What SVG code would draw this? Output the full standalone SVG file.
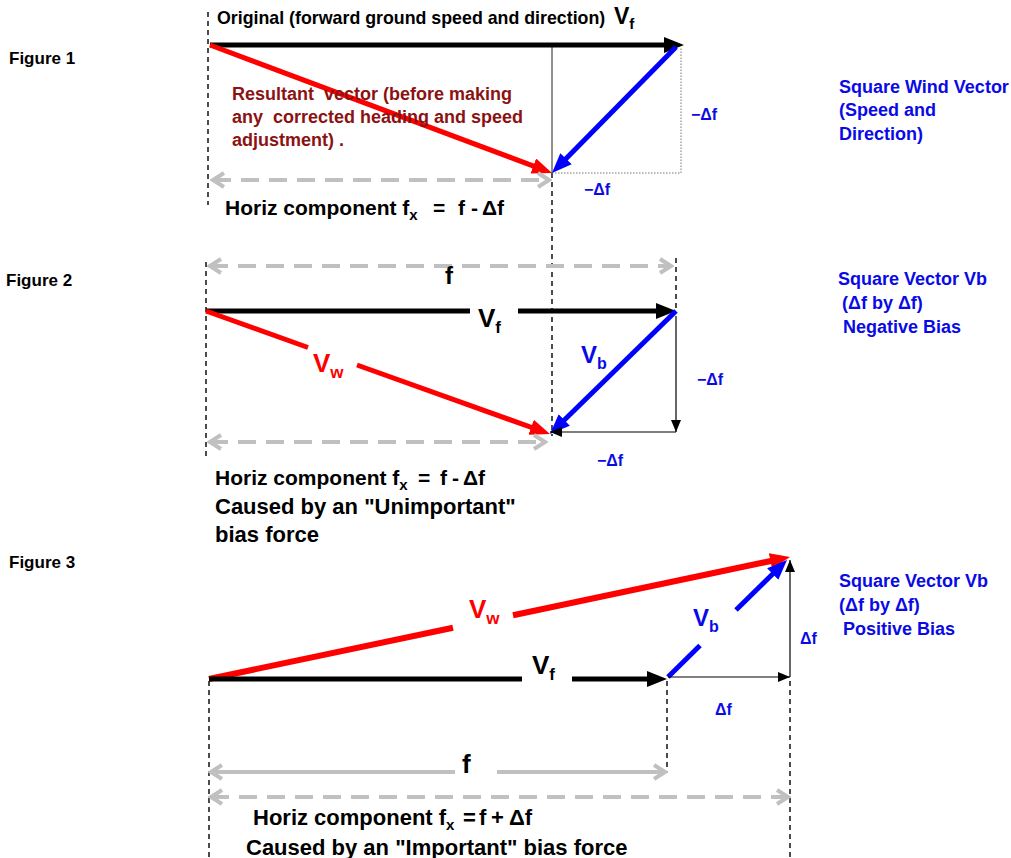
<svg xmlns="http://www.w3.org/2000/svg" width="1011" height="858" viewBox="0 0 1011 858">
<style>
text{font-family:"Liberation Sans",Arial,sans-serif;font-weight:bold}
.lbl{font-size:17px;fill:#000}
.blue{fill:#0a0ae6}
.dred{fill:#8b1212}
.vec{stroke-width:5;fill:none;stroke-linecap:butt}
.k{stroke:#000}
.r{stroke:#ff0000}
.b{stroke:#0000ff}
.thin{stroke:#000;stroke-width:1.2;fill:none}
.dash{stroke:#000;stroke-width:1.4;stroke-dasharray:5 4;fill:none}
.dot{stroke:#777;stroke-width:1;stroke-dasharray:1.5 1.5;fill:none}
.gd{stroke:#c0c0c0;stroke-width:4;stroke-dasharray:18 10;fill:none}
.gs{stroke:#c0c0c0;stroke-width:4;fill:none}
.sm{font-size:16px}
.side{font-size:18px}
.big{font-size:22px}
.hz{font-size:21px}
.sub{font-size:15px}
</style>
<defs>
<marker id="mk" markerUnits="userSpaceOnUse" markerWidth="20" markerHeight="16" refX="11" refY="8" orient="auto"><path d="M0,0 L20,8 L0,16 z" fill="#000"/></marker>
<marker id="mr" markerUnits="userSpaceOnUse" markerWidth="20" markerHeight="16" refX="11" refY="8" orient="auto"><path d="M0,0 L20,8 L0,16 z" fill="#ff0000"/></marker>
<marker id="mb" markerUnits="userSpaceOnUse" markerWidth="20" markerHeight="16" refX="11" refY="8" orient="auto"><path d="M0,0 L20,8 L0,16 z" fill="#0000ff"/></marker>
<marker id="mt" markerUnits="userSpaceOnUse" markerWidth="12" markerHeight="10" refX="12" refY="5" orient="auto"><path d="M0,0 L12,5 L0,10 z" fill="#000"/></marker>
<marker id="mg" markerUnits="userSpaceOnUse" markerWidth="16" markerHeight="18" refX="13" refY="9" orient="auto-start-reverse"><path d="M2,2 L13,9 L2,16" fill="none" stroke="#c0c0c0" stroke-width="4"/></marker>
</defs>

<g id="labels">
<text class="lbl" x="9" y="64">Figure 1</text>
<text class="lbl" x="6" y="286">Figure 2</text>
<text class="lbl" x="9" y="568">Figure 3</text>
</g>

<g id="connectors">
<!-- Figure 1 -->
<line class="dash" x1="208" y1="12" x2="208" y2="205"/>
<line class="thin" x1="552" y1="47" x2="552" y2="173" style="stroke:#222;stroke-width:1"/>
<line class="dash" x1="552" y1="173" x2="552" y2="436"/>
<polyline class="dot" points="552,173 681,173 681,47"/>
<line class="vec k" x1="210" y1="45" x2="675" y2="45" marker-end="url(#mk)"/>
<line class="vec r" x1="210" y1="45" x2="543.6" y2="169.8" marker-end="url(#mr)"/>
<line class="vec b" x1="676" y1="47" x2="558.3" y2="166.6" marker-end="url(#mb)"/>
<line class="gd" x1="213" y1="180" x2="549" y2="180" marker-start="url(#mg)" marker-end="url(#mg)"/>
<!-- Figure 2 -->
<line class="dash" x1="206" y1="262" x2="206" y2="457"/>
<line class="dash" x1="676" y1="258" x2="676" y2="310"/>
<line class="gd" x1="210" y1="266" x2="671" y2="266" marker-start="url(#mg)" marker-end="url(#mg)"/>
<line class="vec k" x1="206" y1="311" x2="470" y2="311"/>
<line class="vec k" x1="518" y1="311" x2="667" y2="311" marker-end="url(#mk)"/>
<line class="vec r" x1="206" y1="311" x2="308" y2="347.5"/>
<line class="vec r" x1="357" y1="365" x2="541.5" y2="431" marker-end="url(#mr)"/>
<line class="vec b" x1="676" y1="311" x2="556.4" y2="427.7" marker-end="url(#mb)"/>
<line class="thin" x1="676" y1="316" x2="676" y2="432" marker-end="url(#mt)"/>
<line class="thin" x1="676" y1="432" x2="550" y2="432" marker-end="url(#mt)"/>
<line class="gd" x1="210" y1="442" x2="545" y2="442" marker-start="url(#mg)" marker-end="url(#mg)"/>
<!-- Figure 3 -->
<line class="dash" x1="209" y1="681" x2="209" y2="858"/>
<line class="dash" x1="667" y1="681" x2="667" y2="772"/>
<line class="dash" x1="790" y1="681" x2="790" y2="858"/>
<line class="vec r" x1="209" y1="679" x2="453" y2="627.8" style="stroke-width:6"/>
<line class="vec r" x1="513" y1="615.2" x2="781.2" y2="558.8" style="stroke-width:6" marker-end="url(#mr)"/>
<line class="vec k" x1="209" y1="679" x2="522" y2="679"/>
<line class="vec k" x1="572" y1="679" x2="658" y2="679" marker-end="url(#mk)"/>
<line class="vec b" x1="668" y1="677" x2="700" y2="645.5"/>
<line class="vec b" x1="736" y1="610" x2="780.6" y2="566.3" marker-end="url(#mb)"/>
<line class="thin" x1="668" y1="677" x2="790" y2="677" marker-end="url(#mt)"/>
<line class="thin" x1="790" y1="677" x2="790" y2="560" marker-end="url(#mt)"/>
<line class="gs" x1="211" y1="772" x2="455" y2="772" marker-start="url(#mg)"/>
<line class="gs" x1="497" y1="772" x2="665" y2="772" marker-end="url(#mg)"/>
<line class="gd" x1="211" y1="797" x2="788" y2="797" marker-start="url(#mg)" marker-end="url(#mg)"/>
</g>

<g id="fig1-text">
<text x="217" y="24" style="font-size:17.8px">Original (forward ground speed and direction) <tspan style="font-size:23px" x="614">V</tspan><tspan style="font-size:15px" dy="5">f</tspan></text>
<text class="dred" style="font-size:18px" x="232" y="100" xml:space="preserve">Resultant  vector (before making</text>
<text class="dred" style="font-size:18px" x="232" y="123" xml:space="preserve">any  corrected heading and speed</text>
<text class="dred" style="font-size:18px" x="232" y="146">adjustment) .</text>
<text class="hz" x="225" y="215">Horiz component f<tspan class="sub" dy="5">x</tspan><tspan x="433" dy="-5">=</tspan><tspan x="458">f</tspan><tspan x="471">-</tspan><tspan x="482">Δf</tspan></text>
<text class="blue sm" x="691" y="120">−Δf</text>
<text class="blue sm" x="584" y="195">−Δf</text>
<text class="blue side" x="839" y="93">Square Wind Vector</text>
<text class="blue side" x="839" y="116">(Speed and</text>
<text class="blue side" x="839" y="140">Direction)</text>
</g>

<g id="fig2-text">
<text style="font-size:24px" x="445" y="284">f</text>
<text style="font-size:26px" x="478" y="327">V<tspan style="font-size:17px" dy="6">f</tspan></text>
<text style="font-size:26px;fill:#ff0000" x="313" y="372">V<tspan style="font-size:17px" dy="6">w</tspan></text>
<text class="blue" style="font-size:24px" x="581" y="363">V<tspan style="font-size:16px" dy="6">b</tspan></text>
<text class="blue sm" x="697" y="385">−Δf</text>
<text class="blue sm" x="597" y="466">−Δf</text>
<text class="hz" x="215" y="485">Horiz component f<tspan class="sub" dy="5">x</tspan><tspan x="418" dy="-5">=</tspan><tspan x="440">f</tspan><tspan x="452">-</tspan><tspan x="463">Δf</tspan></text>
<text class="big" x="215" y="514">Caused by an "Unimportant"</text>
<text class="big" x="215" y="542">bias force</text>
<text class="blue side" x="838" y="285">Square Vector Vb</text>
<text class="blue side" x="842" y="309">(Δf by Δf)</text>
<text class="blue side" x="843" y="333">Negative Bias</text>
</g>

<g id="fig3-text">
<text style="font-size:26px;fill:#ff0000" x="469" y="618">V<tspan style="font-size:17px" dy="6">w</tspan></text>
<text style="font-size:26px" x="532" y="674">V<tspan style="font-size:17px" dy="6">f</tspan></text>
<text class="blue" style="font-size:24px" x="693" y="626">V<tspan style="font-size:16px" dy="6">b</tspan></text>
<text class="blue sm" x="800" y="644">Δf</text>
<text class="blue sm" x="715" y="715">Δf</text>
<text style="font-size:26px" x="462" y="773">f</text>
<text class="big" x="253" y="825">Horiz component f<tspan class="sub" dy="5">x</tspan><tspan x="463" dy="-5">=</tspan><tspan x="479">f</tspan><tspan x="491">+</tspan><tspan x="509">Δf</tspan></text>
<text class="big" x="246" y="855">Caused by an "Important" bias force</text>
<text class="blue side" x="839" y="587">Square Vector Vb</text>
<text class="blue side" x="839" y="611">(Δf by Δf)</text>
<text class="blue side" x="843" y="635">Positive Bias</text>
</g>
</svg>
